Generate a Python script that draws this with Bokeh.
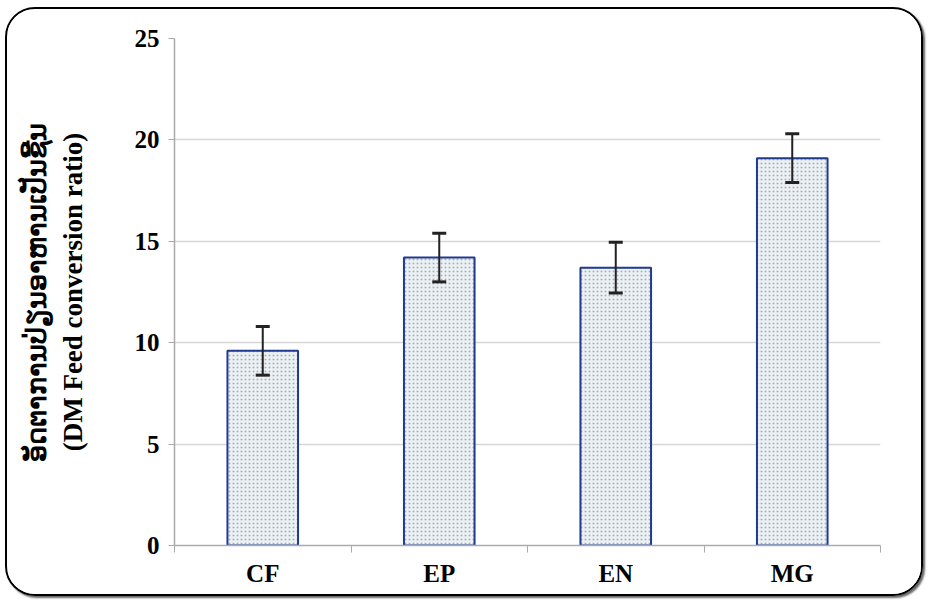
from bokeh.plotting import figure
from bokeh.models import ColumnDataSource, Whisker, FixedTicker, Range1d
from bokeh.embed import file_html
from bokeh.resources import INLINE

categories = ["CF", "EP", "EN", "MG"]
values = [9.6, 14.2, 13.7, 19.1]
errors = [1.2, 1.2, 1.25, 1.2]
y_ticks = [0, 5, 10, 15, 20, 25]

xpos = [i + 0.5 for i in range(len(categories))]
src = ColumnDataSource(dict(
    x=xpos, top=values,
    upper=[v + e for v, e in zip(values, errors)],
    lower=[v - e for v, e in zip(values, errors)],
))

p = figure(width=918, height=589, output_backend="svg", toolbar_location=None,
           x_range=Range1d(0, len(categories)), y_range=Range1d(0, 25),
           min_border_left=167, min_border_right=45, min_border_top=29, min_border_bottom=53)
p.styles = {"border": "2px solid #000", "border-radius": "30px", "overflow": "hidden",
            "box-shadow": "2px 2px 2px #666", "margin": "7px 0 0 5px"}
p.outline_line_color = None
p.background_fill_color = "white"

p.vbar(x="x", top="top", width=0.40, bottom=0, source=src,
       fill_color="#edf1f4", line_color="#1f3a8f", line_width=2,
       hatch_pattern="dot", hatch_color="#a3b2c9", hatch_scale=4, hatch_weight=1)

w = Whisker(base="x", upper="upper", lower="lower", source=src,
            line_color="#222", line_width=2, level="overlay")
w.upper_head.size = 14
w.lower_head.size = 14
w.upper_head.line_width = 3
w.lower_head.line_width = 3
w.upper_head.line_color = "#222"
w.lower_head.line_color = "#222"
p.add_layout(w)

# x axis
p.xaxis.ticker = FixedTicker(ticks=xpos, minor_ticks=list(range(len(categories) + 1)))
p.xaxis.major_label_overrides = {x: c for x, c in zip(xpos, categories)}
p.xaxis.major_tick_line_color = None
p.xaxis.minor_tick_line_color = "#aaaaaa"
p.xaxis.minor_tick_out = 7
p.xaxis.minor_tick_in = 0
p.xaxis.axis_line_color = "#aaaaaa"
p.xaxis.axis_line_width = 1.5
p.xaxis.major_label_text_font = "Liberation Serif"
p.xaxis.major_label_text_font_style = "bold"
p.xaxis.major_label_text_font_size = "25px"
p.xaxis.major_label_text_color = "#000"
p.xaxis.major_label_standoff = 7
p.xgrid.grid_line_color = None

# y axis
p.yaxis.ticker = FixedTicker(ticks=y_ticks)
p.yaxis.minor_tick_line_color = None
p.yaxis.major_tick_line_color = "#aaaaaa"
p.yaxis.major_tick_out = 6
p.yaxis.major_tick_in = 0
p.yaxis.axis_line_color = "#aaaaaa"
p.yaxis.axis_line_width = 1.5
p.yaxis.major_label_text_font = "Liberation Serif"
p.yaxis.major_label_text_font_style = "bold"
p.yaxis.major_label_text_font_size = "25px"
p.yaxis.major_label_text_color = "#000"
p.yaxis.major_label_standoff = 9
p.yaxis.axis_label = "ອັດຕາການປ່ຽນອາຫານເປັນຊີ້ນ\n(DM Feed conversion ratio)"
p.yaxis.axis_label_text_font = "Liberation Serif"
p.yaxis.axis_label_text_font_style = "bold"
p.yaxis.axis_label_text_font_size = "27px"
p.yaxis.axis_label_text_color = "#000"
p.yaxis.axis_label_standoff = 44
p.ygrid.grid_line_color = "#d6d6d6"
p.ygrid.grid_line_width = 1.5

open("out.html", "w").write(file_html(p, INLINE))
